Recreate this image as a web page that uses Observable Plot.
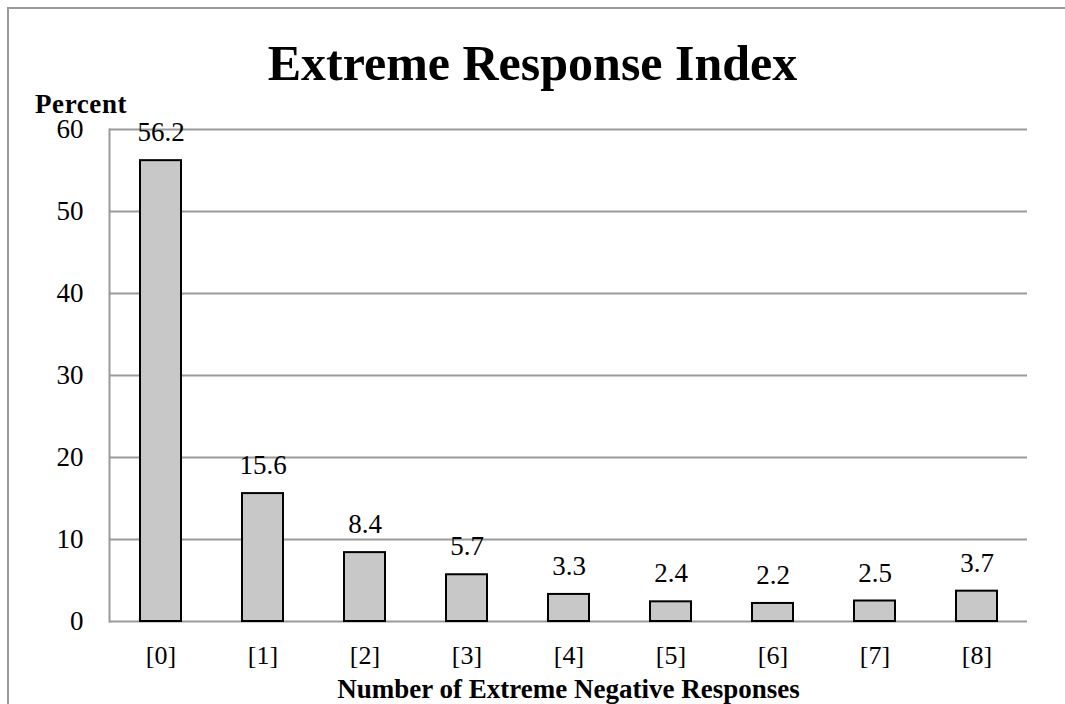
<!DOCTYPE html>
<html>
<head>
<meta charset="utf-8">
<script src="https://cdn.jsdelivr.net/npm/d3@7"></script>
<script src="https://cdn.jsdelivr.net/npm/@observablehq/plot@0.6"></script>
<style>
  html, body { margin: 0; padding: 0; background: #fff; overflow: hidden; }
  #wrap { position: relative; width: 1065px; height: 704px; overflow: hidden; font-family: "Liberation Serif", "DejaVu Serif", serif; }
  #frame { position: absolute; left: 0; top: 0; }
  #title { position: absolute; left: 0; width: 1065px; top: 38px; text-align: center; font-weight: bold; font-size: 50px; line-height: 1; color: #000; }
  #ylab { position: absolute; left: 35px; top: 91px; font-weight: bold; font-size: 27px; letter-spacing: 0.6px; line-height: 1; color: #000; }
  #chart { position: absolute; left: 0; top: 0; }
</style>
</head>
<body>
<div id="wrap">
  <svg id="frame" width="1065" height="704"><path d="M8,704V8H1065" fill="none" stroke="#9a9a9a" stroke-width="2"/></svg>
  <div id="chart"></div>
  <div id="title">Extreme Response Index</div>
  <div id="ylab">Percent</div>
</div>
<script>
const categories = ["[0]", "[1]", "[2]", "[3]", "[4]", "[5]", "[6]", "[7]", "[8]"];
const percents = [56.2, 15.6, 8.4, 5.7, 3.3, 2.4, 2.2, 2.5, 3.7];
const yTicks = [0, 10, 20, 30, 40, 50, 60];
const xTitle = "Number of Extreme Negative Responses";

const data = categories.map((c, i) => ({cat: c, value: percents[i]}));

const chart = Plot.plot({
  width: 1065,
  height: 704,
  marginLeft: 109,
  marginRight: 38,
  marginTop: 129,
  marginBottom: 83,
  style: {fontFamily: "'Liberation Serif', 'DejaVu Serif', serif", background: "transparent", color: "#000"},
  x: {domain: categories, paddingInner: 0.6, paddingOuter: 0.3, label: null},
  y: {domain: [0, 60], label: null},
  marks: [
    Plot.ruleY(yTicks.filter(d => d > 0), {stroke: "#9a9a9a", strokeWidth: 2, strokeOpacity: 1}),
    Plot.frame({anchor: "left", stroke: "#9a9a9a", strokeWidth: 2, strokeOpacity: 1}),
    Plot.ruleY([0], {stroke: "#9a9a9a", strokeWidth: 2, strokeOpacity: 1}),
    Plot.barY(data, {x: "cat", y: "value", fill: "#c8c8c8", stroke: "#000", strokeWidth: 2}),
    Plot.text(data, {x: "cat", y: "value", text: d => d.value.toFixed(1), dy: -28, fontSize: 27, fill: "#000"}),
    Plot.axisY({ticks: yTicks, tickSize: 0, tickPadding: 26, fontSize: 27, tickFormat: d => String(d), label: null}),
    Plot.axisX({tickSize: 0, tickPadding: 24, fontSize: 26, label: null}),
    Plot.text([xTitle], {frameAnchor: "bottom", lineAnchor: "middle", dy: 68, fontSize: 27, fontWeight: "bold", fill: "#000", text: d => d, letterSpacing: "1.6px"})
  ]
});
document.getElementById("chart").appendChild(chart);
</script>
</body>
</html>
